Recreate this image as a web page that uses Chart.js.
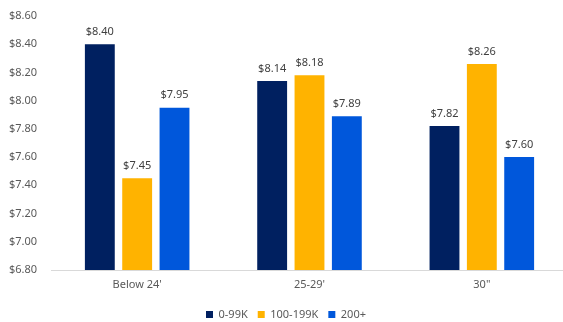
<!DOCTYPE html>
<html>
<head>
<meta charset="utf-8">
<script src="https://cdn.jsdelivr.net/npm/chart.js@4/dist/chart.umd.min.js"></script>
<style>
  html, body { margin: 0; padding: 0; background: #fff; overflow: hidden; }
  #wrap { width: 580px; height: 332px; }
</style>
</head>
<body>
<div id="wrap"><canvas id="priceChart" width="580" height="332"></canvas></div>
<script>
// Categories and series
const categories = ["Below 24'", "25-29'", '30"'];
const low = [8.40, 8.14, 7.82];      // 0-99K
const mid = [7.45, 8.18, 8.26];      // 100-199K
const high = [7.95, 7.89, 7.60];     // 200+
const seriesNames = ['0-99K', '100-199K', '200+'];
const yTicks = [6.80, 7.00, 7.20, 7.40, 7.60, 7.80, 8.00, 8.20, 8.40, 8.60];

const colors = ['#002060', '#FFB300', '#0057DB'];
const textColor = '#595959';
const fontFamily = "'Noto Sans', 'Liberation Sans', sans-serif";

const money = v => '$' + Number(v).toFixed(2);

// Draws the value above each bar
const valueLabels = {
    id: 'valueLabels',
    afterDatasetsDraw(chart) {
        const ctx = chart.ctx;
        ctx.save();
        ctx.font = '11px ' + fontFamily;
        ctx.fillStyle = '#404040';
        ctx.textAlign = 'center';
        ctx.textBaseline = 'bottom';
        chart.data.datasets.forEach((ds, i) => {
            chart.getDatasetMeta(i).data.forEach((bar, j) => {
                ctx.fillText(money(ds.data[j]), bar.x, bar.y - 7);
            });
        });
        ctx.restore();
    }
};

new Chart(document.getElementById('priceChart'), {
    type: 'bar',
    data: {
        labels: categories,
        datasets: [low, mid, high].map((d, i) => ({
            label: seriesNames[i],
            data: d,
            backgroundColor: colors[i],
            borderWidth: 0,
            categoryPercentage: 0.65,
            barPercentage: 0.8
        }))
    },
    options: {
        responsive: false,
        animation: false,
        layout: { padding: { top: 16, right: 12, left: 4, bottom: 2 } },
        plugins: {
            legend: {
                position: 'bottom',
                labels: {
                    boxWidth: 7,
                    boxHeight: 7,
                    padding: 10,
                    color: textColor,
                    font: { size: 11, family: fontFamily }
                }
            },
            tooltip: { enabled: false }
        },
        scales: {
            x: {
                afterFit: scale => { scale.height = 29; },
                grid: { display: false },
                border: { display: true, color: '#d9d9d9', width: 1 },
                ticks: { color: textColor, padding: 0, font: { size: 11, family: fontFamily } }
            },
            y: {
                min: yTicks[0],
                max: yTicks[yTicks.length - 1],
                afterBuildTicks: scale => { scale.ticks = yTicks.map(v => ({ value: v })); },
                afterFit: scale => { scale.width = 47; },
                grid: { display: false },
                border: { display: false },
                ticks: {
                    color: textColor,
                    padding: 6,
                    font: { size: 11, family: fontFamily },
                    callback: v => money(v)
                }
            }
        }
    },
    plugins: [valueLabels]
});
</script>
</body>
</html>
